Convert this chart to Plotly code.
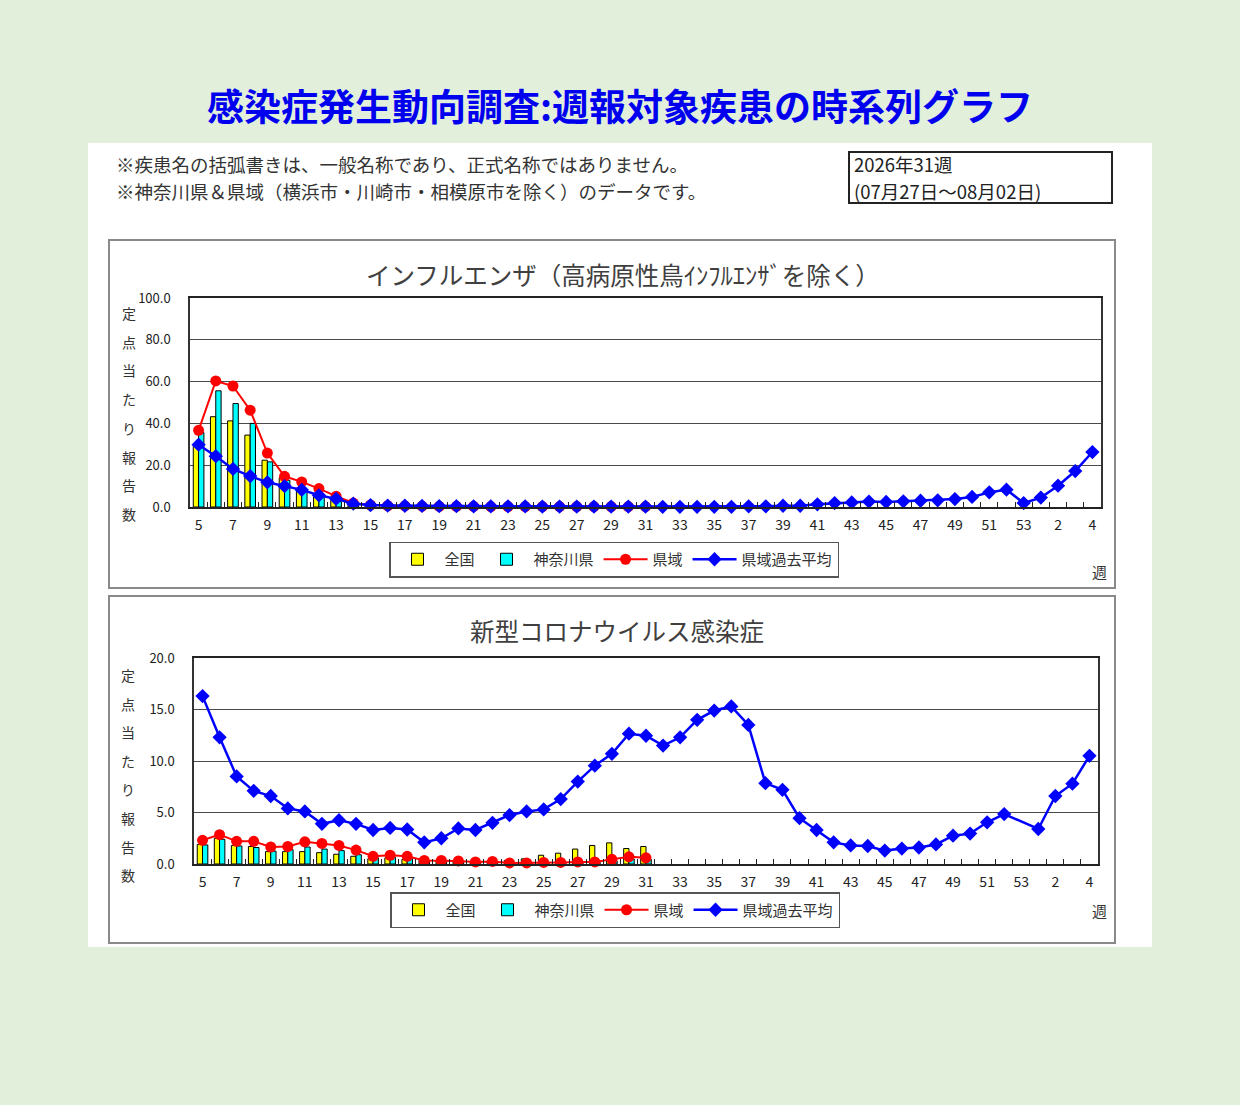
import plotly.graph_objects as go

W, H = 1240, 1105

def fx(px):
    return px / W

def fy(py):
    return 1 - py / H

weeks = ["5", "6", "7", "8", "9", "10", "11", "12", "13", "14", "15", "16", "17", "18",
         "19", "20", "21", "22", "23", "24", "25", "26", "27", "28", "29", "30", "31",
         "32", "33", "34", "35", "36", "37", "38", "39", "40", "41", "42", "43", "44",
         "45", "46", "47", "48", "49", "50", "51", "52", "53", "1", "2", "3", "4"]

# インフルエンザ
flu_zenkoku = [29.0, 43.2, 41.2, 34.4, 22.4, 14.0, 9.0, 5.6, 3.2, 1.6, 0.9, 0.6, 0.5, 0.4,
               0.3, 0.3, 0.3, 0.2, 0.2, 0.2, 0.2, 0.2, 0.2, 0.2, 0.2, 0.2, 0.2]
flu_kanagawa = [35.6, 55.6, 49.5, 40.0, 21.6, 12.8, 8.2, 5.0, 2.6, 1.3, 0.7, 0.5, 0.4, 0.3,
                0.3, 0.2, 0.2, 0.2, 0.2, 0.2, 0.2, 0.2, 0.2, 0.2, 0.2, 0.2, 0.2]
flu_kenki = [36.7, 60.3, 57.9, 46.3, 25.8, 14.7, 12.0, 8.8, 5.2, 1.9, 0.9, 0.6, 0.5, 0.4,
             0.3, 0.3, 0.3, 0.2, 0.2, 0.2, 0.2, 0.2, 0.2, 0.2, 0.2, 0.2, 0.2]
flu_kako = [29.8, 24.3, 18.2, 14.8, 11.8, 10.0, 8.2, 5.6, 3.9, 1.6, 0.9, 0.7, 0.6, 0.5,
            0.4, 0.4, 0.3, 0.3, 0.3, 0.3, 0.2, 0.2, 0.2, 0.2, 0.2, 0.2, 0.2,
            0.1, 0.1, 0.1, 0.1, 0.1, 0.3, 0.3, 0.6, 0.6, 1.3, 1.9, 2.2, 2.6, 2.4, 2.7,
            3.0, 3.2, 3.8, 4.8, 7.0, 8.3, 1.9,
            4.5, 10.2, 17.2, 26.3]

# 新型コロナ
cov_zenkoku = [1.9, 2.5, 1.8, 1.7, 1.2, 1.2, 1.2, 1.1, 0.95, 0.75, 0.5, 0.6, 0.45, 0.35,
               0.3, 0.3, 0.25, 0.3, 0.35, 0.5, 0.85, 1.05, 1.45, 1.8, 2.05, 1.5, 1.7]
cov_kanagawa = [1.85, 2.4, 1.75, 1.6, 1.25, 1.4, 1.65, 1.45, 1.3, 0.9, 0.6, 0.65, 0.5, 0.3,
                0.25, 0.2, 0.2, 0.15, 0.15, 0.15, 0.15, 0.15, 0.2, 0.2, 0.3, 0.5, 0.45]
cov_kenki = [2.3, 2.85, 2.2, 2.2, 1.65, 1.7, 2.15, 2.0, 1.8, 1.35, 0.75, 0.85, 0.75, 0.35,
             0.35, 0.3, 0.2, 0.25, 0.1, 0.1, 0.15, 0.15, 0.2, 0.2, 0.45, 0.7, 0.6]
cov_kako = [16.3, 12.3, 8.5, 7.1, 6.6, 5.4, 5.1, 3.9, 4.25, 3.9, 3.3, 3.5, 3.35, 2.1,
            2.5, 3.45, 3.3, 4.0,
            4.75, 5.1, 5.3, 6.3, 8.0, 9.55, 10.7, 12.65, 12.45, 11.5, 12.3, 14.0, 14.9,
            15.3, 13.5,
            7.85, 7.2, 4.45, 3.3, 2.1, 1.8, 1.75, 1.3, 1.5, 1.6, 1.9, 2.75, 2.95, 4.05, 4.85,
            None,
            3.4, 6.6, 7.8, 10.5]

series_names = ["全国", "神奈川県", "県域", "県域過去平均"]
tick_text = [w if i % 2 == 0 else "" for i, w in enumerate(weeks)]
ylabel_chars = "定点当たり報告数"

FONT = "Noto Sans CJK JP"

fig = go.Figure()

def add_chart(xa, ya, leg, zen, kan, ken, kako):
    fig.add_trace(go.Bar(x=weeks[:len(zen)], y=zen, name=series_names[0],
                         marker=dict(color="#ffff00", line=dict(color="#000000", width=1)),
                         xaxis=xa, yaxis=ya, legend=leg))
    fig.add_trace(go.Bar(x=weeks[:len(kan)], y=kan, name=series_names[1],
                         marker=dict(color="#00ffff", line=dict(color="#000000", width=1)),
                         xaxis=xa, yaxis=ya, legend=leg))
    fig.add_trace(go.Scatter(x=weeks[:len(ken)], y=ken, name=series_names[2],
                             mode="lines+markers", line=dict(color="#ff0000", width=2),
                             marker=dict(symbol="circle", size=11, color="#ff0000"),
                             cliponaxis=False, xaxis=xa, yaxis=ya, legend=leg))
    fig.add_trace(go.Scatter(x=weeks[:len(kako)], y=kako, name=series_names[3],
                             mode="lines+markers", line=dict(color="#0000ff", width=2.5),
                             marker=dict(symbol="diamond", size=11, color="#0000ff"),
                             connectgaps=True, cliponaxis=False,
                             xaxis=xa, yaxis=ya, legend=leg))

add_chart("x", "y", "legend", flu_zenkoku, flu_kanagawa, flu_kenki, flu_kako)
add_chart("x2", "y2", "legend2", cov_zenkoku, cov_kanagawa, cov_kenki, cov_kako)

xcommon = dict(type="category", categoryorder="array", categoryarray=weeks,
               range=[-0.5, len(weeks) - 0.5], autorange=False,
               tickmode="array", tickvals=weeks, ticktext=tick_text, tickangle=0,
               tickson="boundaries", ticks="inside", ticklen=5, tickcolor="#222222",
               showline=True, linecolor="#222222", linewidth=2, mirror=True,
               showgrid=False, tickfont=dict(size=14, color="#222222", family=FONT),
               ticklabelstandoff=4, automargin=False, fixedrange=True)
ycommon = dict(showline=True, linecolor="#333333", linewidth=1.5, mirror=True,
               gridcolor="#4a4a4a", gridwidth=1.3, zeroline=False, ticks="",
               tickformat=".1f", tickfont=dict(size=13, color="#222222", family=FONT),
               ticklabelstandoff=15, automargin=False, fixedrange=True)

legcommon = dict(orientation="h", xanchor="center", yanchor="middle",
                 bgcolor="#ffffff", bordercolor="#555555", borderwidth=1.5,
                 font=dict(size=15, color="#333333", family=FONT),
                 itemwidth=44, traceorder="normal", itemclick=False)

fig.update_layout(
    width=W, height=H, autosize=False,
    margin=dict(l=0, r=0, t=0, b=0, pad=0, autoexpand=False),
    paper_bgcolor="#e2efda", plot_bgcolor="#ffffff",
    font=dict(family=FONT, color="#333333"),
    barmode="group", bargap=0.38, bargroupgap=0,
    xaxis=dict(xcommon, domain=[fx(190), fx(1101)], anchor="y"),
    yaxis=dict(ycommon, domain=[fy(507), fy(298)], range=[0, 100], dtick=20, anchor="x"),
    xaxis2=dict(xcommon, domain=[fx(194), fx(1098)], anchor="y2"),
    yaxis2=dict(ycommon, domain=[fy(864), fy(658)], range=[0, 20], dtick=5, anchor="x2"),
    legend=dict(legcommon, x=fx(614), y=fy(559.5)),
    legend2=dict(legcommon, x=fx(615), y=fy(910)),
    showlegend=True,
)

shapes = [
    dict(type="rect", xref="paper", yref="paper", x0=fx(88), x1=fx(1152), y0=fy(947), y1=fy(143),
         fillcolor="#ffffff", line=dict(width=0), layer="below"),
    dict(type="rect", xref="paper", yref="paper", x0=fx(109), x1=fx(1115), y0=fy(588), y1=fy(240),
         line=dict(color="#8a8a8a", width=2), layer="below"),
    dict(type="rect", xref="paper", yref="paper", x0=fx(109), x1=fx(1115), y0=fy(943), y1=fy(596),
         line=dict(color="#8a8a8a", width=2), layer="below"),
    dict(type="rect", xref="paper", yref="paper", x0=fx(849), x1=fx(1112), y0=fy(203), y1=fy(152),
         line=dict(color="#222222", width=2), layer="below"),
]
fig.update_layout(shapes=shapes)

ann = []
def text(x, y, s, size, color="#333333", anchor="left", bold=False):
    ann.append(dict(x=fx(x), y=fy(y), xref="paper", yref="paper", text=f"<b>{s}</b>" if bold else s,
                    showarrow=False, xanchor=anchor, yanchor="middle", align="left",
                    font=dict(size=size, color=color, family=FONT)))

notes = ["※疾患名の括弧書きは、一般名称であり、正式名称ではありません。",
         "※神奈川県＆県域（横浜市・川崎市・相模原市を除く）のデータです。"]
period = ["2026年31週", "(07月27日～08月02日)"]

text(620, 105, "感染症発生動向調査:週報対象疾患の時系列グラフ", 37, "#0000ee", "center", True)
text(114, 164, notes[0], 18.5, "#333333")
text(114, 191, notes[1], 18.5, "#333333")
text(852, 164, period[0], 18.5, "#222222")
text(852, 191, period[1], 18.5, "#222222")
text(623, 274, "インフルエンザ（高病原性鳥ｲﾝﾌﾙｴﾝｻﾞを除く）", 24.5, "#404040", "center")
text(617, 630, "新型コロナウイルス感染症", 24.5, "#404040", "center")
text(1099, 571, "週", 15, "#333333", "center")
text(1099, 910, "週", 15, "#333333", "center")
for i, ch in enumerate(ylabel_chars):
    text(129, 313 + i * 28.7, ch, 14, "#333333", "center")
    text(128, 675 + i * 28.6, ch, 14, "#333333", "center")
fig.update_layout(annotations=ann)

fig.write_html("out.html", config={"displayModeBar": False},
               post_script="document.body.style.margin='0';")
